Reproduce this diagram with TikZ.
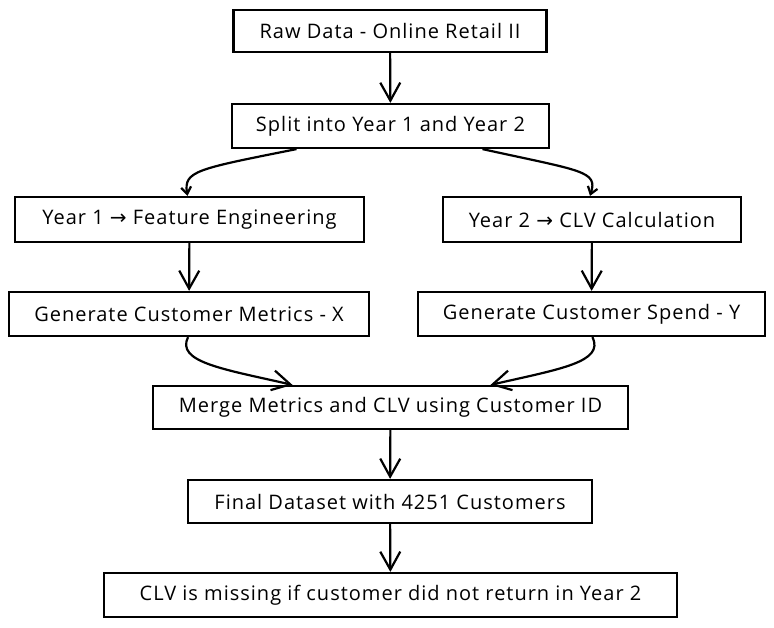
\documentclass[tikz,border=0pt]{standalone}
\usepackage{fontspec}
\setmainfont{Open Sans}[LetterSpace=5]
\newfontfamily\arrowfont{DejaVu Sans}
\usetikzlibrary{arrows.meta}

\begin{document}
\begin{tikzpicture}[x=1pt,y=-1pt]
    \tikzstyle{box}=[draw, line width=2.2pt, inner sep=0pt, font=\fontsize{20}{24}\selectfont]
    \tikzstyle{flow}=[line width=2.2pt, -{Straight Barb[length=18pt,width=20pt]}]
    \tikzstyle{curvearrow}=[line width=2.2pt, -{Straight Barb[length=7pt,width=10pt]}]
    \useasboundingbox (0,0) rectangle (774,627);

    \node[box, minimum width=313pt, minimum height=42pt] (raw) at (390,31) {Raw Data - Online Retail II};
    \node[box, minimum width=317pt, minimum height=44pt] (split) at (390.5,126) {Split into Year 1 and Year 2};
    \node[box, minimum width=349pt, minimum height=45pt] (yearone) at (189.5,219.5) {Year 1 {\arrowfont →} Feature Engineering};
    \node[box, minimum width=298pt, minimum height=45pt] (yeartwo) at (592,219.5) {Year 2 {\arrowfont →} CLV Calculation};
    \node[box, minimum width=360pt, minimum height=44pt] (metrics) at (189,314) {Generate Customer Metrics - X};
    \node[box, minimum width=347pt, minimum height=44pt] (spend) at (591.5,314) {Generate Customer Spend - Y};
    \node[box, minimum width=475pt, minimum height=43pt] (merge) at (390.5,407.5) {Merge Metrics and CLV using Customer ID};
    \node[box, minimum width=404pt, minimum height=43pt] (final) at (390,501.5) {Final Dataset with 4251 Customers};
    \node[box, minimum width=573pt, minimum height=44pt] (missing) at (390.5,595) {CLV is missing if customer did not return in Year 2};

    \draw[flow] (raw)--(split);
    \draw[curvearrow] ([xshift=-94pt]split.south) .. controls +(-100,20) and +(-4,-25) .. ([xshift=-2pt]yearone.north);
    \draw[curvearrow] ([xshift=92pt]split.south) .. controls +(100,22) and +(8,-25) .. ([xshift=-2pt]yeartwo.north);
    \draw[flow] (yearone)--(metrics);
    \draw[flow] (yeartwo)--(spend);
    \draw[flow] ([xshift=-1pt]metrics.south) .. controls +(-12,25) and +(-70,-16) .. ([xshift=-98pt]merge.north);
    \draw[flow] ([xshift=1pt]spend.south) .. controls +(12,25) and +(70,-16) .. ([xshift=100pt]merge.north);
    \draw[flow] (merge)--(final);
    \draw[flow] (final)--(missing);

\end{tikzpicture}
\end{document}
